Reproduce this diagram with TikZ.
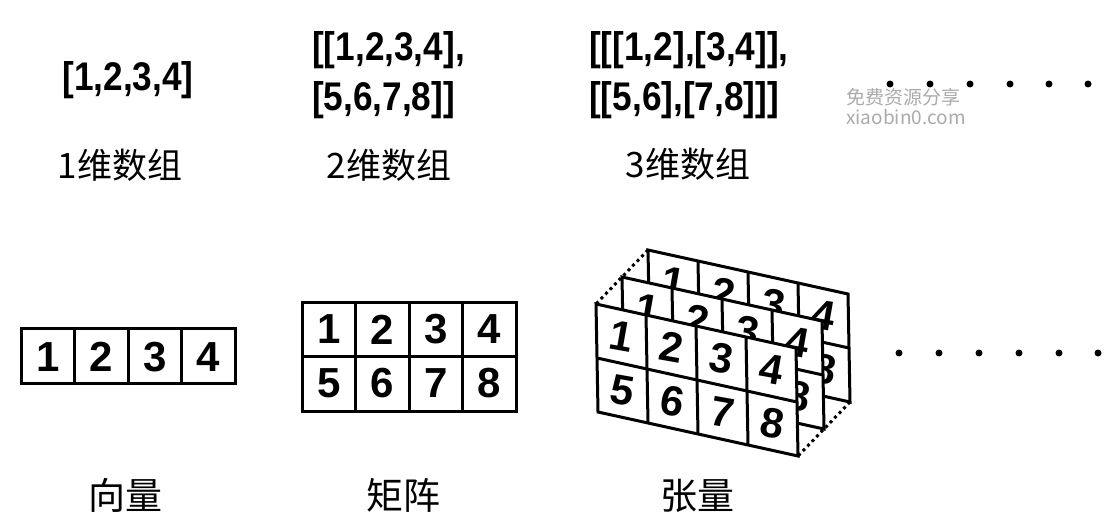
\documentclass[tikz,border=0pt]{standalone}
\usepackage{fontspec}
\setmainfont{Liberation Sans}
\newfontfamily\cjk{Noto Sans CJK SC}
\newcommand\sx[1]{\scalebox{0.88}[1]{#1}}
\begin{document}
\begin{tikzpicture}[x=1pt,y=-1pt,
  cellline/.style={line width=3pt},
  dig/.style={font=\fontsize{42}{42}\selectfont\bfseries, inner sep=0pt},
  arr/.style={font=\fontsize{40}{50}\selectfont\bfseries, inner sep=0pt, align=left},
  hand/.style={font=\cjk\fontsize{35}{35}\selectfont, inner sep=0pt},
  handb/.style={font=\cjk\fontsize{37}{37}\selectfont, inner sep=0pt},
  dotline/.style={line width=3pt, dash pattern=on 3pt off 3.5pt},
  bigdot/.style={circle, fill=black, inner sep=0pt, minimum size=7pt},
  wm/.style={font=\cjk\fontsize{19}{20}\selectfont, text=black!33, inner sep=0pt, align=left}]
\useasboundingbox (0,0) rectangle (1107,518);
\fill[white] (0,0) rectangle (1107,518);

% array literals
\node[arr] (a1) at (128,80) {\sx{[1,2,3,4]}};
\node[arr, anchor=west] (a2) at (312,75) {\sx{[[1,2,3,4],}\\\sx{[5,6,7,8]]}};
\node[arr, anchor=west] (a3) at (589,75) {\sx{[[[1,2],[3,4]],}\\\sx{[[5,6],[7,8]]]}};

% labels
\node[hand] (l1) at (120,165) {1维数组};
\node[hand] (l2) at (389,165) {2维数组};
\node[hand] (l3) at (688,164) {3维数组};
\node[handb] (b1) at (125,495) {向量};
\node[handb] (b2) at (403,495) {矩阵};
\node[handb] (b3) at (697,496) {张量};

% watermark
\node[wm, anchor=north west] (w) at (846,88) {免费资源分享\\xiaobin0.com};

% dots
\foreach \x [count=\i] in {890,930,970,1010,1049,1088} \node[bigdot] (d\i) at (\x,84) {};
\foreach \x [count=\i] in {899,939,979,1019,1059,1098} \node[bigdot] (e\i) at (\x,353) {};

% vector
\draw[cellline] (21,328) rectangle (235,383);
\foreach \i in {1,2,3} \draw[cellline] (21+53.5*\i,328) -- (21+53.5*\i,383);
\foreach \n in {1,...,4} \node[dig] (v\n) at (21+53.5*\n-26.75,357) {\n};

% matrix
\draw[cellline] (302,302) rectangle (516,411);
\draw[cellline] (302,356.5) -- (516,356.5);
\foreach \i in {1,2,3} \draw[cellline] (302+53.5*\i,302) -- (302+53.5*\i,411);
\foreach \n in {1,...,4} {
  \pgfmathtruncatemacro\nb{\n+4}
  \node[dig] (m\n) at (302+53.5*\n-26.75,329.5) {\n};
  \node[dig] (m\nb) at (302+53.5*\n-26.75,383.5) {\nb};
}

% tensor
\coordinate (kTL) at (648,250); \coordinate (fTL) at (596,304);
\coordinate (kTR) at (848,294); \coordinate (fTR) at (796,348);
\coordinate (kBR) at (850,402); \coordinate (fBR) at (798,456);
\draw[dotline] (kTL) -- (fTL);
\draw[dotline] (kTR) -- (fTR);
\draw[dotline] (kBR) -- (fBR);
\foreach \ox/\oy/\nm in {648/250/k, 622/277/m, 596/304/f} {
  \filldraw[cellline, fill=white] (\ox,\oy) -- ++(200,44) -- ++(2,108) -- ++(-200,-44) -- cycle;
  \foreach \c in {1,2,3} \draw[cellline] (\ox+50*\c,\oy+11*\c) -- ++(2,108);
  \draw[cellline] (\ox+1,\oy+54) -- ++(200,44);
  \foreach \c in {0,...,3} {
    \pgfmathtruncatemacro\na{\c+1}
    \pgfmathtruncatemacro\nb{\c+5}
    \node[dig, rotate=-10] (t\nm\na) at (\ox+50*\c+25.5,\oy+11*\c+32.5) {\na};
    \node[dig, rotate=-10] (t\nm\nb) at (\ox+50*\c+26.5,\oy+11*\c+86.5) {\nb};
  }
}
\end{tikzpicture}
\end{document}
